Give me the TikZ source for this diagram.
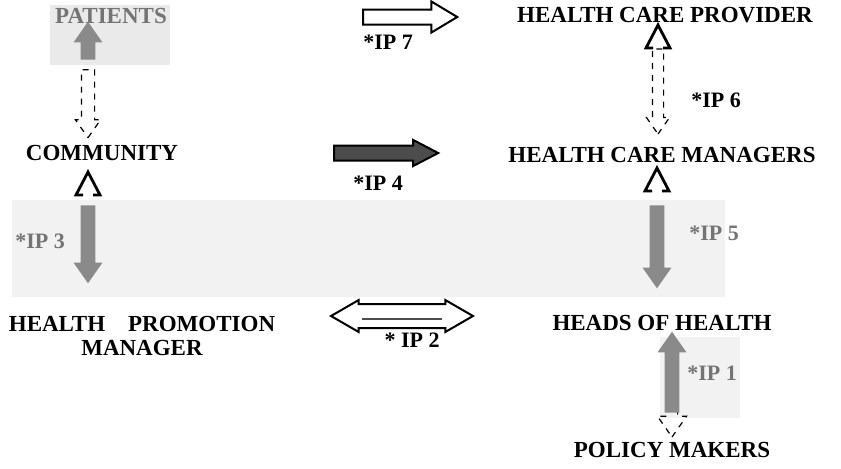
\documentclass[tikz,border=0pt]{standalone}
\usepackage{fontspec}
\setmainfont{Liberation Serif}
\usetikzlibrary{shapes.arrows}
\definecolor{scangray}{HTML}{F2F2F2}
\definecolor{patgray}{HTML}{EAEAEA}
\definecolor{arrowgray}{HTML}{8A8A8A}
\definecolor{labelgray}{HTML}{747474}

\begin{document}
\begin{tikzpicture}[x=0.5pt, y=-0.5pt,
    box/.style={font=\fontsize{11.5}{12}\selectfont\bfseries, inner sep=1pt, align=center},
    iplabel/.style={font=\fontsize{11}{12}\selectfont\bfseries, inner sep=1pt},
    grayarrow/.style={single arrow, fill=arrowgray, draw=none, inner sep=3.5pt,
        single arrow head extend=3.5pt, single arrow tip angle=70, minimum width=0pt},
    dasharrow/.style={single arrow, draw=black, dashed, line width=0.6pt, fill=none,
        single arrow tip angle=70, minimum width=0pt},
    openhead/.pic={\draw[line width=1.4pt, line join=miter]
        (-5,23) -- (-12,23) -- (0,0) -- (12,23) -- (5,23);}]
    \useasboundingbox (0,0) rectangle (841,468);
    % scanned grey patches
    \fill[patgray] (50,5) rectangle (170,65);
    \fill[scangray] (12,200) rectangle (725,297);
    \fill[scangray] (660,337) rectangle (740,418);

    \node[box, text=labelgray] (patients) at (111,16) {PATIENTS};
    \node[box] (community) at (102,153) {COMMUNITY};
    \node[box] (hpm) at (142,336) {HEALTH\quad PROMOTION\\MANAGER};
    \node[box] (provider) at (665,15) {HEALTH CARE PROVIDER};
    \node[box] (managers) at (662,155) {HEALTH CARE MANAGERS};
    \node[box] (heads) at (662,323) {HEADS OF HEALTH};
    \node[box] (policy) at (672,450) {POLICY MAKERS};

    % left column
    \node[dasharrow, rotate=-90, inner sep=3pt, single arrow head extend=3pt,
        minimum height=34pt] (pc) at (88,99) {};
    \node[grayarrow, rotate=90, minimum height=19pt] (pup) at (88,46) {};
    \pic at (88,172) {openhead};
    \node[grayarrow, rotate=-90, minimum height=39pt] (ip3) at (88,239) {};
    \node[iplabel, text=labelgray] (ip3lab) at (40,241) {*IP 3};

    % right column
    \node[dasharrow, rotate=-90, inner sep=2.5pt, single arrow head extend=3pt,
        minimum height=42.5pt] (ip6) at (658,87.5) {};
    \pic at (658,25) {openhead};
    \node[iplabel] (ip6lab) at (716,100) {*IP 6};
    \pic at (657,168) {openhead};
    \node[grayarrow, rotate=-90, minimum height=41.5pt] (ip5) at (657,241.5) {};
    \node[iplabel, text=labelgray] (ip5lab) at (714,233) {*IP 5};
    \node[dasharrow, rotate=-90, inner sep=2.5pt, single arrow head extend=4.5pt,
        minimum height=14pt] (ip1d) at (672,419) {};
    \node[grayarrow, rotate=90, minimum height=40.5pt] (ip1) at (672,377.5) {};
    \node[iplabel, text=labelgray] (ip1lab) at (712,373) {*IP 1};

    % middle arrows
    \node[single arrow, draw=black, line width=1pt, fill=white, inner sep=3.25pt,
        single arrow head extend=4pt, single arrow tip angle=62, minimum width=0pt,
        minimum height=47pt] (ip7) at (404,17) {};
    \node[iplabel] (ip7lab) at (388,42) {*IP 7};
    \node[single arrow, draw=black, line width=1pt, fill=black!70, inner sep=3.25pt,
        single arrow head extend=2.75pt, single arrow tip angle=55, minimum width=0pt,
        minimum height=52pt] (ip4) at (379,153) {};
    \node[iplabel] (ip4lab) at (378,183) {*IP 4};
    \node[double arrow, draw=black, line width=1pt, fill=white, inner sep=5.5pt,
        double arrow head extend=2pt, double arrow tip angle=60, minimum width=0pt,
        minimum height=71pt] (ip2) at (402,316) {};
    \draw[line width=1pt, black!70] (ip2.center) ++(-40,3) -- ++(80,0);
    \node[iplabel] (ip2lab) at (412,340) {* IP 2};
\end{tikzpicture}
\end{document}
